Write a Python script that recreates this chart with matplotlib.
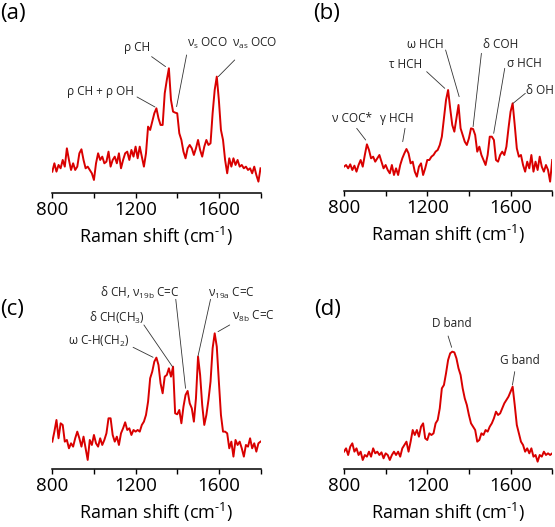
import numpy as np
import matplotlib
matplotlib.use('Agg')
import matplotlib.pyplot as plt

plt.rcParams['font.family'] = ['Open Sans', 'DejaVu Sans']
plt.rcParams['mathtext.fontset'] = 'custom'
plt.rcParams['mathtext.rm'] = 'Open Sans'
plt.rcParams['mathtext.default'] = 'regular'

# Raman shift grid (cm-1), read every 10 cm-1
shift = np.arange(800, 1801, 10)

# intensities, arbitrary units
spec_a = [65, 90, 65, 85, 75, 100, 80, 135, 100, 70,
          90, 70, 80, 120, 132, 100, 75, 80, 70, 60,
          40, 90, 120, 100, 110, 90, 95, 125, 80, 100,
          110, 90, 120, 75, 100, 120, 125, 100, 130, 110,
          140, 105, 140, 110, 80, 120, 200, 190, 215, 240,
          255, 225, 205, 205, 300, 340, 375, 280, 245, 242,
          240, 180, 160, 125, 105, 135, 145, 135, 115, 135,
          160, 130, 110, 140, 160, 145, 150, 240, 310, 350,
          280, 190, 160, 100, 60, 105, 80, 105, 85, 100,
          80, 85, 75, 80, 70, 75, 60, 80, 55, 35, 75]

spec_b = [73, 78, 68, 80, 63, 76, 58, 78, 93, 73,
          108, 140, 123, 98, 103, 88, 98, 108, 88, 68,
          78, 63, 53, 78, 48, 68, 48, 78, 98, 113,
          126, 113, 83, 88, 58, 43, 73, 83, 48, 68,
          93, 93, 103, 108, 118, 123, 138, 163, 218, 273,
          303, 248, 198, 178, 218, 258, 188, 168, 148, 138,
          158, 188, 186, 168, 118, 133, 108, 93, 78, 108,
          163, 163, 153, 93, 88, 108, 118, 108, 133, 188,
          238, 263, 198, 128, 103, 108, 78, 58, 88, 68,
          108, 58, 88, 63, 103, 73, 58, 78, 63, 28, 93]

spec_c = [83, 113, 148, 93, 138, 133, 83, 88, 63, 78,
          68, 93, 113, 93, 68, 98, 63, 28, 88, 73,
          103, 78, 68, 93, 73, 88, 108, 153, 153, 103,
          83, 98, 73, 108, 123, 141, 118, 123, 103, 118,
          113, 118, 113, 133, 143, 163, 203, 273, 293, 323,
          335, 313, 258, 228, 278, 283, 303, 278, 308, 168,
          165, 178, 138, 188, 223, 235, 198, 183, 143, 213,
          338, 283, 193, 133, 163, 208, 263, 363, 408, 368,
          263, 163, 113, 113, 108, 63, 83, 38, 88, 73,
          83, 63, 38, 73, 68, 93, 63, 78, 53, 78, 83]

spec_d = [52, 62, 42, 67, 77, 52, 62, 42, 52, 27,
          42, 37, 52, 37, 62, 47, 52, 42, 50, 32,
          47, 42, 27, 42, 52, 42, 52, 37, 62, 72,
          82, 52, 82, 117, 102, 117, 97, 127, 137, 92,
          87, 107, 102, 107, 137, 147, 182, 242, 252, 287,
          327, 347, 352, 350, 332, 302, 282, 242, 212, 192,
          162, 137, 127, 117, 82, 87, 107, 102, 117, 112,
          127, 137, 152, 172, 162, 167, 182, 197, 207, 217,
          232, 247, 192, 132, 107, 82, 72, 52, 62, 47,
          62, 37, 42, 22, 42, 37, 52, 42, 47, 42, 47]

labels_a = ['ρ CH + ρ OH', 'ρ CH', 'ν$_s$ OCO', 'ν$_{as}$ OCO']
labels_b = ['ν COC*', 'γ HCH', 'τ HCH', 'ω HCH', 'δ COH', 'σ HCH', 'δ OH']
labels_c = ['ω C-H(CH$_2$)', 'δ CH(CH$_3$)', 'δ CH, ν$_{19b}$ C=C',
            'ν$_{19a}$ C=C', 'ν$_{8b}$ C=C']
labels_d = ['D band', 'G band']

xticks = [800, 1000, 1200, 1400, 1600, 1800]
xticklabels = ['800', '', '1200', '', '1600', '']

RED = '#d90000'
W, H = 555, 527


def draw_panel(fig, left, base, spec, labels, places, tag, tag_xy):
    # left, base in pixels (base = y of axis line from top)
    ax = fig.add_axes([left / W, 1 - base / H, 208.2 / W, 140 / H])
    ax.plot(shift, spec, color=RED, lw=1.4)
    ax.set_xlim(800, 1800)
    ax.set_ylim(0, 420)
    for s in ['left', 'top', 'right']:
        ax.spines[s].set_visible(False)
    ax.spines['bottom'].set_linewidth(1.1)
    ax.set_yticks([])
    ax.set_xticks(xticks)
    ax.set_xticklabels(xticklabels)
    ax.tick_params(axis='x', length=3.8, width=1, pad=2, labelsize=13.5)
    ax.set_xlabel(r'Raman shift (cm$^{\text{-}1}$)', fontsize=13, labelpad=4)
    for text, (tpos, p0, p1) in zip(labels, places):
        ax.text(tpos[0], tpos[1], text, ha='center', va='center',
                fontsize=8.5, color='#222222', clip_on=False)
        ax.annotate('', xy=p1, xytext=p0, annotation_clip=False,
                    arrowprops=dict(arrowstyle='-', color='#333333', lw=0.6,
                                    shrinkA=0, shrinkB=0))
    fig.text(tag_xy[0] / W, 1 - tag_xy[1] / H, tag, fontsize=16,
             ha='left', va='center')
    return ax


fig = plt.figure(figsize=(W / 100, H / 100), dpi=100)

# (text centre, line start, line end) in data units
places_a = [((1033, 305), (1207, 289), (1293, 259)),
            ((1208, 438), (1277, 410), (1344, 380)),
            ((1543, 450), (1445, 415), (1397, 260)),
            ((1772, 450), (1676, 400), (1597, 350))]
places_b = [((840, 218), (861, 188), (904, 153)),
            ((1056, 218), (1093, 188), (1082, 148)),
            ((1096, 378), (1197, 358), (1284, 308)),
            ((1192, 438), (1288, 423), (1353, 283)),
            ((1552, 438), (1460, 413), (1420, 193)),
            ((1668, 383), (1572, 368), (1519, 173)),
            ((1743, 303), (1671, 293), (1612, 263))]
places_c = [((1024, 383), (1188, 366), (1284, 336)),
            ((1109, 453), (1240, 433), (1377, 308)),
            ((1221, 528), (1393, 510), (1440, 243)),
            ((1660, 528), (1560, 510), (1500, 340)),
            ((1764, 458), (1652, 433), (1596, 413))]
places_d = [((1317, 437), (1300, 399), (1317, 365)),
            ((1644, 327), (1620, 292), (1609, 252))]

draw_panel(fig, 52.3, 193.3, spec_a, labels_a, places_a, '(a)', (0, 14))
draw_panel(fig, 344, 191, spec_b, labels_b, places_b, '(b)', (313, 14))
draw_panel(fig, 52.3, 469.3, spec_c, labels_c, places_c, '(c)', (0, 310))
draw_panel(fig, 344, 469, spec_d, labels_d, places_d, '(d)', (314, 310))

fig.savefig('out.png', dpi=100)
